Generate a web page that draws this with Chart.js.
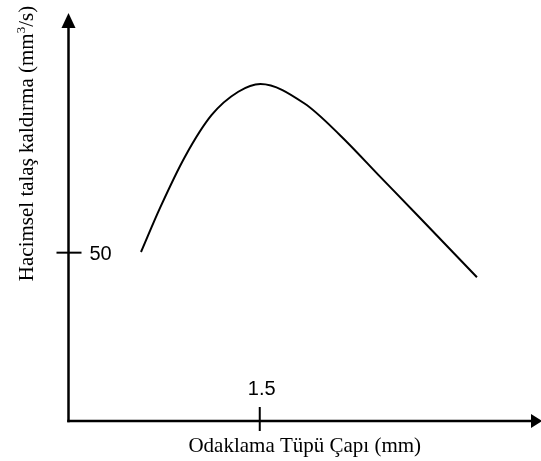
<!DOCTYPE html>
<html>
<head>
<meta charset="utf-8">
<script src="https://cdn.jsdelivr.net/npm/chart.js@4/dist/chart.umd.min.js"></script>
<style>
html,body{margin:0;padding:0;background:#fff;}
#wrap{width:541px;height:461px;}
</style>
</head>
<body>
<div id="wrap"><canvas id="c" width="541" height="461"></canvas></div>
<script>
// Data
const diameters = [0.571, 0.720, 0.915, 1.124, 1.332, 1.505, 1.850, 2.128, 2.441, 2.754, 3.199];
const removalRates = [50.2, 63.3, 78.5, 90.9, 97.8, 100.1, 94.3, 84.9, 72.6, 60.3, 42.7];
const xTickValues = [1.5];
const xTickLabels = ['1.5'];
const yTickValues = [50];
const yTickLabels = ['50'];
const xTitle = 'Odaklama Tüpü Çapı (mm)';
const yTitleMain = 'Hacimsel talaş kaldırma (mm';
const yTitleSup = '3';
const yTitleEnd = '/s)';

const points = diameters.map((d, i) => ({x: d, y: removalRates[i]}));

const axesPlugin = {
  id: 'axesPlugin',
  afterDraw(chart) {
    const ctx = chart.ctx;
    const xs = chart.scales.x, ys = chart.scales.y;
    const ox = xs.getPixelForValue(0) + 0.5;
    const oy = ys.getPixelForValue(0);
    const topY = ys.getPixelForValue(120) - 4;
    const rightX = chart.chartArea.right;
    ctx.save();
    ctx.strokeStyle = '#000';
    ctx.fillStyle = '#000';
    ctx.lineWidth = 2.5;
    ctx.lineCap = 'butt';
    // y axis
    ctx.beginPath();
    ctx.moveTo(ox, oy + 1.25);
    ctx.lineTo(ox, topY + 12);
    ctx.stroke();
    // x axis
    ctx.beginPath();
    ctx.moveTo(ox - 1.25, oy);
    ctx.lineTo(rightX - 8, oy);
    ctx.stroke();
    // arrows
    ctx.beginPath();
    ctx.moveTo(ox, topY);
    ctx.lineTo(ox - 7, topY + 15);
    ctx.lineTo(ox + 7, topY + 15);
    ctx.closePath();
    ctx.fill();
    ctx.beginPath();
    ctx.moveTo(rightX + 1, oy);
    ctx.lineTo(rightX - 10, oy - 7);
    ctx.lineTo(rightX - 10, oy + 7);
    ctx.closePath();
    ctx.fill();
    // ticks
    ctx.lineWidth = 2;
    ctx.font = '20px "Liberation Sans", Arial, sans-serif';
    yTickValues.forEach((v, i) => {
      const py = ys.getPixelForValue(v);
      ctx.beginPath();
      ctx.moveTo(ox - 12, py);
      ctx.lineTo(ox + 13, py);
      ctx.stroke();
      ctx.textAlign = 'left';
      ctx.textBaseline = 'alphabetic';
      ctx.fillText(yTickLabels[i], ox + 21, py + 7.5);
    });
    xTickValues.forEach((v, i) => {
      const px = xs.getPixelForValue(v);
      ctx.beginPath();
      ctx.moveTo(px, oy - 14);
      ctx.lineTo(px, oy + 10);
      ctx.stroke();
      ctx.textAlign = 'center';
      ctx.textBaseline = 'alphabetic';
      ctx.fillText(xTickLabels[i], px + 2, oy - 26);
    });
    // titles
    ctx.font = '21px "Liberation Serif", "Times New Roman", serif';
    ctx.textAlign = 'center';
    ctx.textBaseline = 'alphabetic';
    ctx.fillText(xTitle, (ox + rightX) / 2, oy + 31);
    // y title rotated with superscript
    ctx.save();
    ctx.translate(33, 143.5);
    ctx.rotate(-Math.PI / 2);
    const mainFont = '21px "Liberation Serif", "Times New Roman", serif';
    const supFont = '13px "Liberation Serif", "Times New Roman", serif';
    ctx.font = mainFont;
    const w1 = ctx.measureText(yTitleMain).width;
    const w3 = ctx.measureText(yTitleEnd).width;
    ctx.font = supFont;
    const w2 = ctx.measureText(yTitleSup).width;
    const total = w1 + w2 + w3;
    let cx = -total / 2;
    ctx.textAlign = 'left';
    ctx.font = mainFont;
    ctx.fillText(yTitleMain, cx, 0);
    cx += w1;
    ctx.font = supFont;
    ctx.fillText(yTitleSup, cx, -8);
    cx += w2;
    ctx.font = mainFont;
    ctx.fillText(yTitleEnd, cx, 0);
    ctx.restore();
    ctx.restore();
  }
};

new Chart(document.getElementById('c'), {
  type: 'line',
  data: {
    datasets: [{
      data: points,
      borderColor: '#000',
      borderWidth: 2,
      pointRadius: 0,
      fill: false,
      cubicInterpolationMode: 'monotone'
    }]
  },
  options: {
    responsive: false,
    animation: false,
    events: [],
    layout: {padding: {left: 68, right: 0, top: 17, bottom: 40}},
    plugins: {legend: {display: false}, tooltip: {enabled: false}, title: {display: false}},
    scales: {
      x: {type: 'linear', min: 0, max: 3.7, display: false},
      y: {type: 'linear', min: 0, max: 120, display: false}
    }
  },
  plugins: [axesPlugin]
});
</script>
</body>
</html>
